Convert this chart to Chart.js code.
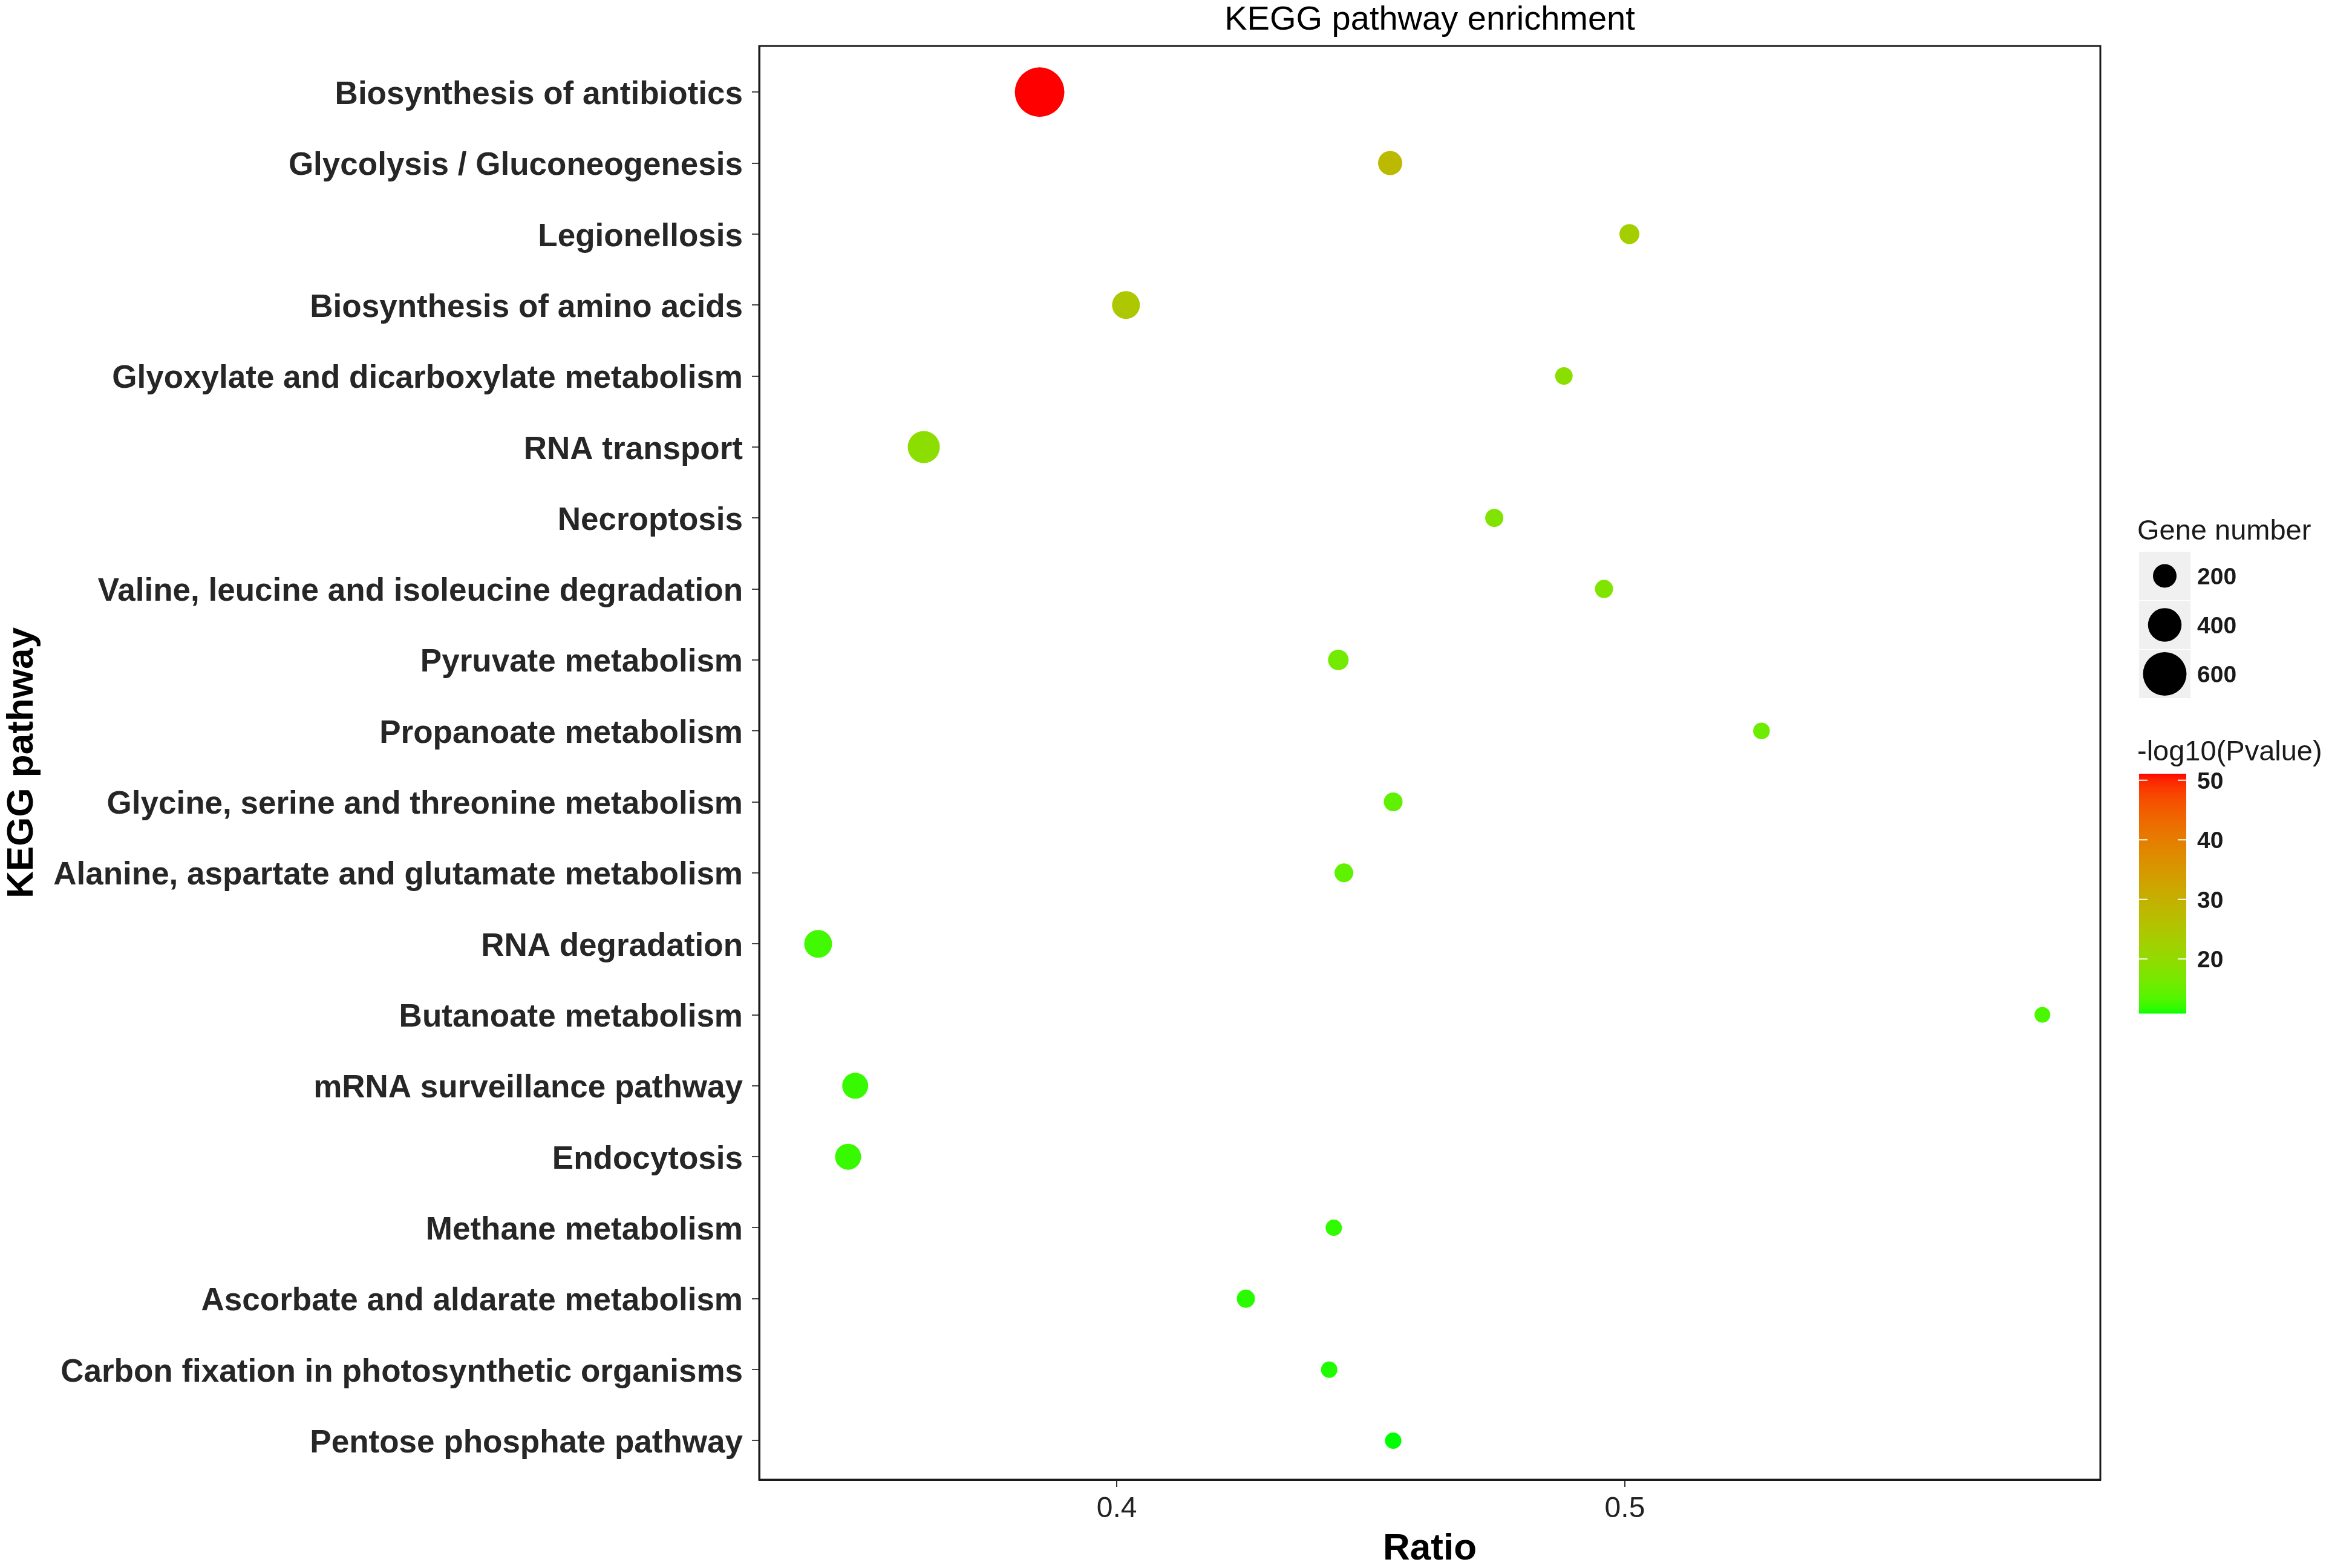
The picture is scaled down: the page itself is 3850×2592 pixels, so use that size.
<!DOCTYPE html>
<html>
<head>
<meta charset="utf-8">
<script src="https://cdn.jsdelivr.net/npm/chart.js@4.4.1/dist/chart.umd.min.js"></script>
<style>
  html, body { margin: 0; padding: 0; background: #fff; }
  canvas { display: block; }
</style>
</head>
<body>
<canvas id="grafico" width="3850" height="2592"></canvas>
<script>
// dados
const pathways = [
  'Biosynthesis of antibiotics',
  'Glycolysis / Gluconeogenesis',
  'Legionellosis',
  'Biosynthesis of amino acids',
  'Glyoxylate and dicarboxylate metabolism',
  'RNA transport',
  'Necroptosis',
  'Valine, leucine and isoleucine degradation',
  'Pyruvate metabolism',
  'Propanoate metabolism',
  'Glycine, serine and threonine metabolism',
  'Alanine, aspartate and glutamate metabolism',
  'RNA degradation',
  'Butanoate metabolism',
  'mRNA surveillance pathway',
  'Endocytosis',
  'Methane metabolism',
  'Ascorbate and aldarate metabolism',
  'Carbon fixation in photosynthetic organisms',
  'Pentose phosphate pathway'
];
const ratios = [0.3848, 0.4538, 0.5009, 0.4018, 0.4880, 0.3620, 0.4743, 0.4959, 0.4436, 0.5269,
                0.4544, 0.4447, 0.3412, 0.5822, 0.3485, 0.3471, 0.4427, 0.4254, 0.4418, 0.4544];
const geneNumbers = [720, 212, 127, 285, 79, 370, 91, 91, 139, 61,
                     103, 103, 285, 42, 248, 248, 55, 91, 55, 55];
const pvalues = [51.1, 27.8, 23.0, 24.6, 19.0, 19.2, 17.7, 17.5, 16.1, 15.7,
                 14.5, 14.3, 12.5, 12.9, 12.1, 12.1, 11.8, 11.6, 11.3, 10.9];
const xTicks = [0.4, 0.5];
const sizeBreaks = [200, 400, 600];
const colorBreaks = [20, 30, 40, 50];

const FONTE = '"Liberation Sans", Arial, Helvetica, sans-serif';
const pMin = Math.min(...pvalues);
const pMax = Math.max(...pvalues);

// diâmetro do ponto (px) a partir do número de genes
function diametro(n) {
  return 22.5 + 0.0825 * n;
}

// interpolação verde -> vermelho no espaço Lab (como o ggplot)
function rgbToLab(r, g, b) {
  const lin = c => { c /= 255; return c > 0.04045 ? Math.pow((c + 0.055) / 1.055, 2.4) : c / 12.92; };
  const R = lin(r), G = lin(g), B = lin(b);
  const X = (R * 0.4124 + G * 0.3576 + B * 0.1805) / 0.95047;
  const Y = R * 0.2126 + G * 0.7152 + B * 0.0722;
  const Z = (R * 0.0193 + G * 0.1192 + B * 0.9505) / 1.08883;
  const f = t => t > 0.008856 ? Math.cbrt(t) : 7.787 * t + 16 / 116;
  const fx = f(X), fy = f(Y), fz = f(Z);
  return [116 * fy - 16, 500 * (fx - fy), 200 * (fy - fz)];
}
function labToRgb(L, a, b) {
  const fy = (L + 16) / 116, fx = fy + a / 500, fz = fy - b / 200;
  const finv = t => t > 0.206893 ? t * t * t : (t - 16 / 116) / 7.787;
  const X = finv(fx) * 0.95047, Y = finv(fy), Z = finv(fz) * 1.08883;
  const R = X * 3.2406 - Y * 1.5372 - Z * 0.4986;
  const G = -X * 0.9689 + Y * 1.8758 + Z * 0.0415;
  const B = X * 0.0557 - Y * 0.2040 + Z * 1.0570;
  const gam = c => {
    c = c > 0.0031308 ? 1.055 * Math.pow(c, 1 / 2.4) - 0.055 : 12.92 * c;
    return Math.round(Math.max(0, Math.min(1, c)) * 255);
  };
  return 'rgb(' + gam(R) + ',' + gam(G) + ',' + gam(B) + ')';
}
const labBaixo = rgbToLab(0, 255, 0);
const labAlto = rgbToLab(255, 0, 0);
function corEscala(v) {
  const t = Math.max(0, Math.min(1, (v - pMin) / (pMax - pMin)));
  return labToRgb(
    labBaixo[0] + (labAlto[0] - labBaixo[0]) * t,
    labBaixo[1] + (labAlto[1] - labBaixo[1]) * t,
    labBaixo[2] + (labAlto[2] - labBaixo[2]) * t
  );
}

// borda, título e legendas desenhados por cima
const extras = {
  id: 'extras',
  afterDraw(chart) {
    const ctx = chart.ctx;
    const a = chart.chartArea;
    ctx.save();

    // moldura do painel
    ctx.strokeStyle = '#1a1a1a';
    ctx.lineWidth = 3;
    ctx.strokeRect(a.left, a.top, a.right - a.left, a.bottom - a.top);

    // título
    ctx.fillStyle = '#000';
    ctx.textAlign = 'center';
    ctx.textBaseline = 'middle';
    ctx.font = '56px ' + FONTE;
    ctx.fillText('KEGG pathway enrichment', (a.left + a.right) / 2, 34);

    // legenda do tamanho
    const lx = 3533;
    ctx.textAlign = 'left';
    ctx.font = '47px ' + FONTE;
    ctx.fillStyle = '#1a1a1a';
    ctx.fillText('Gene number', lx, 879);

    const boxX = 3536, boxW = 85, boxH = 80;
    let boxY = 912;
    sizeBreaks.forEach(n => {
      ctx.fillStyle = '#f0f0f0';
      ctx.fillRect(boxX, boxY, boxW, boxH);
      ctx.fillStyle = '#000';
      ctx.beginPath();
      ctx.arc(boxX + boxW / 2, boxY + boxH / 2, diametro(n) / 2, 0, Math.PI * 2);
      ctx.fill();
      ctx.fillStyle = '#1a1a1a';
      ctx.font = 'bold 39px ' + FONTE;
      ctx.fillText(String(n), 3632, boxY + boxH / 2 + 3);
      boxY += boxH + 1;
    });

    // barra de cores
    ctx.font = '47px ' + FONTE;
    ctx.fillStyle = '#1a1a1a';
    ctx.fillText('-log10(Pvalue)', lx, 1244);

    const barX = 3536, barW = 78, barTop = 1279, barBot = 1675;
    const yDe = v => barBot - (v - pMin) / (pMax - pMin) * (barBot - barTop);
    for (let y = barTop; y < barBot; y++) {
      const v = pMin + (barBot - y - 0.5) / (barBot - barTop) * (pMax - pMin);
      ctx.fillStyle = corEscala(v);
      ctx.fillRect(barX, y, barW, 1.5);
    }
    colorBreaks.forEach(v => {
      const y = yDe(v);
      ctx.strokeStyle = '#fff';
      ctx.lineWidth = 2;
      ctx.beginPath();
      ctx.moveTo(barX, y); ctx.lineTo(barX + 14, y);
      ctx.moveTo(barX + barW - 14, y); ctx.lineTo(barX + barW, y);
      ctx.stroke();
      ctx.fillStyle = '#1a1a1a';
      ctx.font = 'bold 39px ' + FONTE;
      ctx.fillText(String(v), 3632, y + 3);
    });

    ctx.restore();
  }
};

const ctx = document.getElementById('grafico').getContext('2d');
const grafico = new Chart(ctx, {
  type: 'scatter',
  data: {
    datasets: [{
      data: pathways.map((p, i) => ({ x: ratios[i], y: i + 1 })),
      pointRadius: c => diametro(geneNumbers[c.dataIndex]) / 2,
      pointHoverRadius: c => diametro(geneNumbers[c.dataIndex]) / 2,
      backgroundColor: c => corEscala(pvalues[c.dataIndex]),
      borderWidth: 0
    }]
  },
  options: {
    responsive: false,
    devicePixelRatio: 1,
    animation: false,
    layout: { padding: { left: 0, top: 76, right: 378, bottom: 0 } },
    plugins: {
      legend: { display: false },
      tooltip: { enabled: false },
      title: { display: false }
    },
    scales: {
      x: {
        type: 'linear',
        min: 0.3296,
        max: 0.5936,
        afterBuildTicks: s => { s.ticks = xTicks.map(v => ({ value: v })); },
        afterFit: s => { s.height = 146; },
        grid: { drawOnChartArea: false, drawTicks: true, tickLength: 12, tickColor: '#333', lineWidth: 2 },
        border: { display: true, color: '#1a1a1a', width: 3 },
        ticks: {
          font: { family: FONTE, size: 48 },
          color: '#222',
          padding: 8,
          callback: v => v.toFixed(1)
        },
        title: {
          display: true,
          text: 'Ratio',
          color: '#000',
          font: { family: FONTE, size: 62, weight: 'bold', lineHeight: 1 },
          padding: { top: 0, bottom: 0 }
        }
      },
      y: {
        type: 'linear',
        reverse: true,
        min: 0.35,
        max: 20.55,
        afterBuildTicks: s => { s.ticks = pathways.map((p, i) => ({ value: i + 1 })); },
        afterFit: s => { s.width = 1255; },
        grid: { drawOnChartArea: false, drawTicks: true, tickLength: 12, tickColor: '#444', lineWidth: 2 },
        border: { display: true, color: '#1a1a1a', width: 3 },
        ticks: {
          autoSkip: false,
          font: { family: FONTE, size: 53, weight: 'bold' },
          color: '#262626',
          padding: 15,
          labelOffset: 5,
          callback: v => pathways[v - 1]
        },
        title: {
          display: true,
          text: 'KEGG pathway',
          color: '#000',
          font: { family: FONTE, size: 62, weight: 'bold', lineHeight: 1 },
          padding: { top: 6, bottom: 0 }
        }
      }
    }
  },
  plugins: [extras]
});
</script>
</body>
</html>
